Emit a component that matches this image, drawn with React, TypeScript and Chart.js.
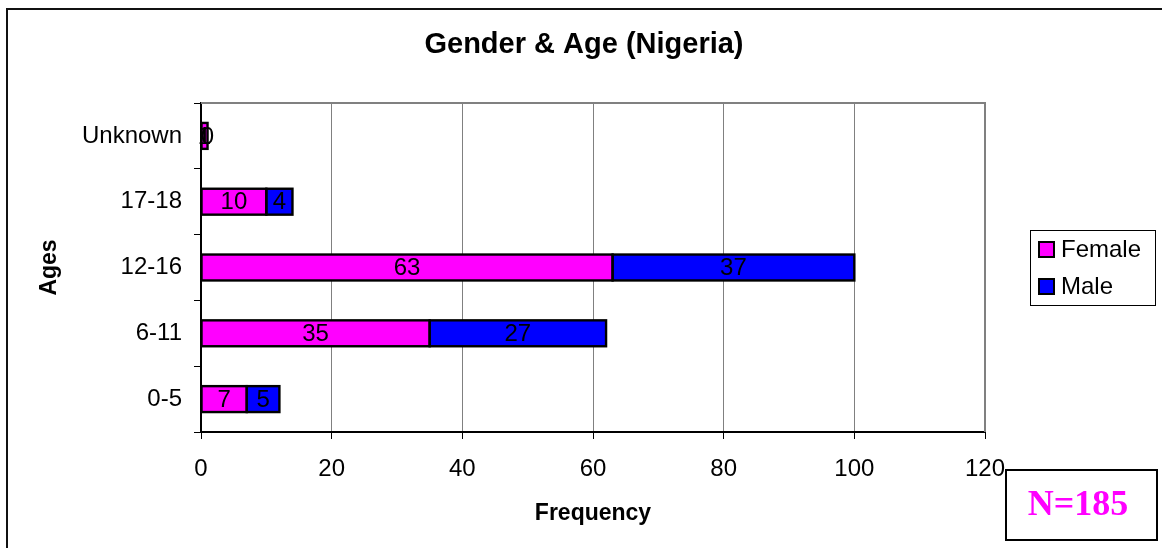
import React, { useEffect, useRef } from 'react';
import { Chart, registerables } from 'chart.js';

Chart.register(...registerables);

const categories = ['Unknown', '17-18', '12-16', '6-11', '0-5'];
const femaleValues = [1, 10, 63, 35, 7];
const maleValues = [0, 4, 37, 27, 5];
const xTicks = [0, 20, 40, 60, 80, 100, 120];
const seriesNames = ['Female', 'Male'];
const seriesColors = ['#FF00FF', '#0000FF'];
const titleText = 'Gender & Age (Nigeria)';
const xTitle = 'Frequency';
const yTitle = 'Ages';
const noteText = 'N=185';

const FONT = '"Liberation Sans", Arial, sans-serif';

const decor = {
  id: 'decor',
  afterDatasetsDraw(chart: any) {
    const ctx = chart.ctx;
    ctx.save();
    // bar outlines
    ctx.strokeStyle = '#000';
    ctx.lineWidth = 2.4;
    chart.data.datasets.forEach((ds: any, i: number) => {
      const meta = chart.getDatasetMeta(i);
      meta.data.forEach((el: any, j: number) => {
        if (!ds.data[j]) return;
        const p = el.getProps(['x', 'y', 'base', 'height'], true);
        const x0 = Math.min(p.x, p.base);
        const w = Math.abs(p.x - p.base);
        ctx.strokeRect(x0, p.y - p.height / 2, w, p.height);
      });
    });
    // value labels
    ctx.font = `24px ${FONT}`;
    ctx.fillStyle = '#000';
    ctx.textAlign = 'center';
    ctx.textBaseline = 'middle';
    chart.data.datasets.forEach((ds: any, i: number) => {
      const meta = chart.getDatasetMeta(i);
      meta.data.forEach((el: any, j: number) => {
        const v = ds.data[j];
        const p = el.getProps(['x', 'y', 'base'], true);
        ctx.fillText(String(v), (p.x + p.base) / 2, p.y + 1);
      });
    });
    ctx.restore();
  },
  afterDraw(chart: any) {
    const ctx = chart.ctx;
    const { left, right, top, bottom } = chart.chartArea;
    ctx.save();
    // plot area top & right border
    ctx.strokeStyle = '#808080';
    ctx.lineWidth = 2;
    ctx.beginPath();
    ctx.moveTo(left, top);
    ctx.lineTo(right, top);
    ctx.lineTo(right, bottom);
    ctx.stroke();

    // outer frame (top and left only visible)
    ctx.fillStyle = '#111';
    ctx.fillRect(6, 8, chart.width, 2);
    ctx.fillRect(6, 8, 2, chart.height);

    // title
    ctx.fillStyle = '#000';
    ctx.font = `bold 29px ${FONT}`;
    ctx.textAlign = 'center';
    ctx.textBaseline = 'middle';
    ctx.fillText(titleText, 584, 45);

    // legend
    ctx.strokeStyle = '#000';
    ctx.lineWidth = 1;
    ctx.strokeRect(1030.5, 230.5, 125, 75);
    ctx.font = `24px ${FONT}`;
    ctx.textAlign = 'left';
    chart.data.datasets.forEach((ds: any, i: number) => {
      const cy = 250 + i * 37;
      ctx.fillStyle = ds.backgroundColor;
      ctx.fillRect(1039, cy - 8, 15, 15);
      ctx.lineWidth = 2;
      ctx.strokeStyle = '#000';
      ctx.strokeRect(1039, cy - 8, 15, 15);
      ctx.fillStyle = '#000';
      ctx.fillText(ds.label, 1061, cy);
    });

    // N box
    ctx.fillStyle = '#fff';
    ctx.fillRect(1005, 469, 152, 72);
    ctx.strokeStyle = '#000';
    ctx.lineWidth = 2;
    ctx.strokeRect(1006, 470, 151, 70);
    ctx.fillStyle = '#FF00FF';
    ctx.font = `bold 36px "Liberation Serif", "Times New Roman", serif`;
    ctx.textAlign = 'center';
    ctx.textBaseline = 'alphabetic';
    ctx.fillText(noteText, 1078, 515);
    ctx.restore();
  },
};

export default function App() {
  const ref = useRef<HTMLCanvasElement | null>(null);

  useEffect(() => {
    if (!ref.current) return;
    Chart.defaults.font.family = FONT;
    const chart = new Chart(ref.current, {
      type: 'bar',
      data: {
        labels: categories,
        datasets: [femaleValues, maleValues].map((vals, i) => ({
          label: seriesNames[i],
          data: vals,
          backgroundColor: seriesColors[i],
          borderWidth: 0,
          barPercentage: 1,
          categoryPercentage: 26 / 66,
        })),
      },
      options: {
        indexAxis: 'y',
        animation: false,
        responsive: false,
        layout: { padding: { left: 0, top: 103, right: 177, bottom: 0 } },
        plugins: {
          legend: { display: false },
          title: { display: false },
          tooltip: { enabled: false },
        },
        scales: {
          x: {
            type: 'linear',
            min: 0,
            max: 120,
            stacked: true,
            afterBuildTicks: (s: any) => {
              s.ticks = xTicks.map((v) => ({ value: v }));
            },
            afterFit: (s: any) => {
              s.height = 116;
            },
            ticks: { color: '#000', font: { size: 24 }, padding: 16 },
            grid: { color: '#808080', lineWidth: 1, tickColor: '#000', tickLength: 7, drawTicks: true },
            border: { color: '#000', width: 2 },
            title: {
              display: true,
              text: xTitle,
              color: '#000',
              font: { size: 23, weight: 'bold' },
              padding: { top: 0, bottom: 21 },
            },
          },
          y: {
            type: 'category',
            stacked: true,
            afterFit: (s: any) => {
              s.width = 201;
            },
            ticks: { color: '#000', font: { size: 24 }, padding: 12 },
            grid: { offset: true, drawOnChartArea: false, drawTicks: true, tickLength: 7, tickColor: '#000' },
            border: { color: '#000', width: 2 },
            title: {
              display: true,
              text: yTitle,
              color: '#000',
              font: { size: 23, weight: 'bold' },
              padding: { top: 36, bottom: 0 },
            },
          },
        },
      } as any,
      plugins: [decor],
    });
    return () => chart.destroy();
  }, []);

  return (
    <div style={{ position: 'fixed', left: 0, top: 0, width: 1162, height: 548, background: '#fff' }}>
      <canvas ref={ref} width={1162} height={548} style={{ display: 'block' }} />
    </div>
  );
}
